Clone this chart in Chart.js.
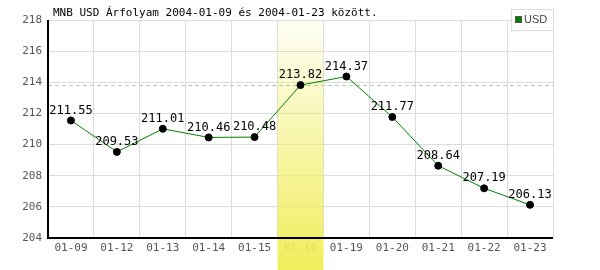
<!DOCTYPE html>
<html>
<head>
<meta charset="utf-8">
<script src="https://cdn.jsdelivr.net/npm/chart.js@4"></script>
<style>
  html, body { margin: 0; padding: 0; background: #fff; }
  #wrap { width: 600px; height: 270px; }
</style>
</head>
<body>
<div id="wrap"><canvas id="arfolyam" width="600" height="270"></canvas></div>
<script>
const days = ['01-09','01-12','01-13','01-14','01-15','01-16','01-19','01-20','01-21','01-22','01-23'];
const usd = [211.55, 209.53, 211.01, 210.46, 210.48, 213.82, 214.37, 211.77, 208.64, 207.19, 206.13];
const yTicks = [204, 206, 208, 210, 212, 214, 216, 218];
const highlightDay = '01-16';
const refLevel = 213.82;
const title = 'MNB USD Árfolyam 2004-01-09 és 2004-01-23 között.';

const mono = '"DejaVu Sans Mono", monospace';

const extras = {
  id: 'extras',
  beforeDatasetsDraw(chart) {
    const c = chart.ctx, a = chart.chartArea, x = chart.scales.x, y = chart.scales.y;
    const i = days.indexOf(highlightDay);
    const w = x.getPixelForValue(1) - x.getPixelForValue(0);
    const cx = x.getPixelForValue(i);
    const g = c.createLinearGradient(0, a.top, 0, chart.height);
    g.addColorStop(0, 'rgba(240,238,90,0.05)');
    g.addColorStop(1, 'rgba(240,238,90,1)');
    c.save();
    c.fillStyle = g;
    c.fillRect(cx - w / 2, a.top, w, chart.height - a.top);
    // dashed reference line
    const ry = Math.round(y.getPixelForValue(refLevel)) + 0.5;
    c.strokeStyle = '#b8c8b8';
    c.lineWidth = 1;
    c.setLineDash([4, 3]);
    c.beginPath();
    c.moveTo(a.left, ry);
    c.lineTo(a.right, ry);
    c.stroke();
    c.restore();
  },
  afterDraw(chart) {
    const c = chart.ctx, a = chart.chartArea;
    c.save();
    // axis lines
    c.strokeStyle = '#000';
    c.lineWidth = 2;
    c.beginPath();
    c.moveTo(a.left, a.top);
    c.lineTo(a.left, a.bottom);
    c.lineTo(a.right, a.bottom);
    c.stroke();
    // value labels
    c.fillStyle = '#000';
    c.font = '12px ' + mono;
    c.textAlign = 'center';
    c.textBaseline = 'bottom';
    chart.getDatasetMeta(0).data.forEach((p, k) => {
      c.fillText(usd[k].toFixed(2), p.x, p.y - 4);
    });
    // title
    c.textAlign = 'left';
    c.textBaseline = 'middle';
    c.font = '11px ' + mono;
    c.fillText(title, 53, 13);
    // legend
    c.fillStyle = '#fff';
    c.fillRect(511.5, 9.5, 42, 21);
    c.strokeStyle = '#dcdcdc';
    c.lineWidth = 1;
    c.strokeRect(511.5, 9.5, 42, 21);
    c.fillStyle = '#008000';
    c.fillRect(515, 16, 7, 7);
    c.strokeStyle = '#555';
    c.strokeRect(515.5, 16.5, 6, 6);
    c.fillStyle = '#444';
    c.font = '11px "Liberation Sans", sans-serif';
    c.fillText('USD', 524, 20);
    c.restore();
  }
};

new Chart(document.getElementById('arfolyam'), {
  type: 'line',
  data: {
    labels: days,
    datasets: [{
      label: 'USD',
      data: usd,
      borderColor: '#008000',
      borderWidth: 1,
      pointBackgroundColor: '#000',
      pointBorderColor: '#000',
      pointRadius: 3.5,
      tension: 0
    }]
  },
  options: {
    responsive: false,
    animation: false,
    layout: { padding: { top: 20, right: 47, left: 0, bottom: 0 } },
    plugins: {
      legend: { display: false },
      tooltip: { enabled: false }
    },
    scales: {
      x: {
        offset: true,
        grid: { offset: true, color: '#dcdcdc', drawTicks: false },
        border: { display: false },
        ticks: { color: '#555', font: { family: mono, size: 11 }, padding: 4, maxRotation: 0 },
        afterFit(s) { s.height = 32; }
      },
      y: {
        min: 204,
        max: 218,
        afterBuildTicks(s) { s.ticks = yTicks.map(v => ({ value: v })); },
        grid: { color: '#dcdcdc', drawTicks: false },
        border: { display: false },
        ticks: { color: '#555', font: { family: mono, size: 11 }, padding: 6 },
        afterFit(s) { s.width = 48; }
      }
    }
  },
  plugins: [extras]
});
</script>
</body>
</html>
